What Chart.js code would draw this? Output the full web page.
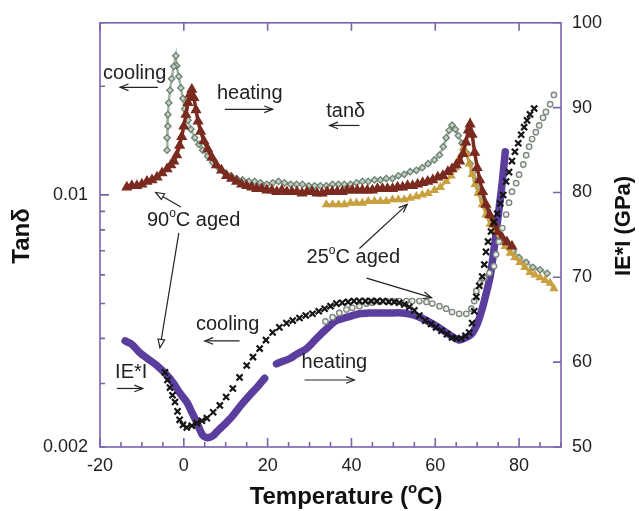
<!DOCTYPE html>
<html><head><meta charset="utf-8">
<script src="https://cdn.jsdelivr.net/npm/chart.js@4/dist/chart.umd.min.js"></script>
<style>html,body{margin:0;padding:0;background:#fff}#wrap{width:639px;height:511px;position:relative}</style>
</head><body><div id="wrap"><canvas id="c" width="639" height="511"></canvas></div>
<script>
// ---- axis ticks ----
const xTicks = [-20, 0, 20, 40, 60, 80];
const tanTicks = [0.002, 0.01];
const tanTickLabels = ['0.002', '0.01'];
const tanMinorTicks = [0.003, 0.004, 0.005, 0.006, 0.007, 0.008, 0.009, 0.02, 0.03];
const eTicks = [50, 60, 70, 80, 90, 100];

// ---- tan delta, 90°C aged, heating (brown triangles) [T, tanδ] ----
const tanHeating90 = [[-13.6,0.0105],[-12.4,0.0106],[-11.2,0.0106],[-10.0,0.0107],[-8.8,0.0109],[-7.6,0.0110],[-6.4,0.0112],[-5.2,0.0115],[-4.0,0.0118],[-3.1,0.0121],[-2.4,0.0124],[-1.7,0.0129],[-1.0,0.0137],[-0.5,0.0145],[0.0,0.0155],[0.5,0.0167],[1.0,0.0180],[1.5,0.0190],[1.9,0.0196],[2.4,0.0186],[2.9,0.0172],[3.4,0.0160],[4.0,0.0150],[4.8,0.0141],[5.7,0.0134],[6.7,0.0127],[7.8,0.0121],[9.0,0.0117],[10.2,0.0113],[11.4,0.0111],[12.6,0.0109],[13.8,0.0107],[15.0,0.0106],[16.2,0.0105],[17.4,0.0104],[18.6,0.0104],[19.8,0.0103],[21.0,0.0103],[22.2,0.0102],[23.4,0.0103],[24.6,0.0102],[25.8,0.0102],[27.0,0.0102],[28.2,0.0101],[29.4,0.0102],[30.6,0.0102],[31.8,0.0101],[33.0,0.0101],[34.2,0.0102],[35.4,0.0102],[36.6,0.0102],[37.8,0.0102],[39.0,0.0103],[40.2,0.0103],[41.4,0.0103],[42.6,0.0103],[43.8,0.0103],[45.0,0.0103],[46.2,0.0104],[47.4,0.0104],[48.6,0.0104],[49.8,0.0104],[51.0,0.0105],[52.2,0.0105],[53.4,0.0106],[54.6,0.0106],[55.8,0.0107],[57.0,0.0108],[58.2,0.0109],[59.4,0.0110],[60.6,0.0112],[61.8,0.0113],[63.0,0.0116],[64.0,0.0118],[65.0,0.0121],[65.8,0.0124],[66.6,0.0130],[67.3,0.0140],[67.9,0.0151],[68.3,0.0157],[68.8,0.0147],[69.4,0.0131],[70.0,0.0119],[70.6,0.0110],[71.3,0.0102],[72.1,0.0094],[73.0,0.0088],[74.0,0.0083],[75.0,0.0079],[76.0,0.0076],[77.1,0.0074],[78.3,0.0072]];

// ---- tan delta, 90°C aged, cooling (grey-green diamonds) ----
const tanCooling90 = [[86.7,0.00606],[85.0,0.0062],[83.3,0.0063],[81.7,0.0065],[80.0,0.0067],[78.6,0.0070],[77.1,0.0072],[75.7,0.0076],[74.5,0.0081],[73.3,0.0085],[72.4,0.0091],[71.4,0.0096],[70.5,0.0102],[69.8,0.0109],[69.0,0.0116],[68.3,0.0122],[67.4,0.0131],[66.4,0.0139],[65.5,0.0146],[64.8,0.0152],[64.0,0.0156],[63.3,0.0151],[62.6,0.0144],[61.9,0.0136],[61.0,0.0129],[59.8,0.0125],[58.3,0.0122],[56.9,0.0119],[55.5,0.0117],[54.0,0.0116],[52.6,0.0114],[51.2,0.0113],[49.8,0.0111],[48.3,0.0111],[46.9,0.0110],[45.5,0.0110],[44.0,0.0109],[42.6,0.0109],[41.2,0.0108],[39.8,0.0107],[38.3,0.0107],[36.9,0.0107],[35.5,0.0107],[34.0,0.0106],[32.6,0.0106],[31.2,0.0106],[29.8,0.0106],[28.3,0.0107],[26.9,0.0107],[25.5,0.0107],[24.0,0.0108],[22.6,0.0109],[21.2,0.0108],[19.8,0.0107],[18.3,0.0108],[16.9,0.0109],[15.5,0.0109],[14.0,0.0110],[12.6,0.0111],[11.2,0.0113],[9.8,0.0115],[8.3,0.0119],[6.9,0.0123],[5.7,0.0128],[4.5,0.0133],[3.6,0.0138],[2.6,0.0144],[1.7,0.0152],[1.0,0.0161],[0.2,0.0173],[-0.2,0.0185],[-0.7,0.0198],[-1.2,0.0213],[-1.7,0.0228],[-1.9,0.0243],[-2.4,0.0227],[-2.9,0.0210],[-3.3,0.0195],[-3.6,0.0180],[-3.8,0.0167],[-3.8,0.0155],[-4.0,0.0144],[-4.0,0.0133]];

// ---- tan delta, 25°C aged, heating (gold triangles) ----
const tanHeating25 = [[34.0,0.0094],[35.5,0.0094],[36.9,0.0094],[38.3,0.0094],[39.8,0.0095],[41.2,0.0095],[42.6,0.0095],[44.0,0.0096],[45.5,0.0096],[46.9,0.0096],[48.3,0.0096],[49.8,0.0097],[51.2,0.0097],[52.6,0.0097],[54.0,0.0098],[55.5,0.0099],[56.9,0.0100],[58.3,0.0101],[59.8,0.0103],[61.2,0.0105],[62.6,0.0109],[63.8,0.0113],[64.8,0.0119],[65.7,0.0126],[66.7,0.0135],[67.4,0.0130],[68.1,0.0122],[68.8,0.0114],[69.5,0.0107],[70.2,0.0101],[71.2,0.0094],[72.1,0.0088],[73.1,0.0083],[74.3,0.0079],[75.5,0.0075],[76.7,0.0072],[77.9,0.0069],[79.0,0.0067],[80.2,0.0065],[81.4,0.0063],[82.6,0.0061],[83.8,0.0060],[85.0,0.0059],[86.2,0.0058],[87.4,0.0057],[88.3,0.0055]];

// ---- |E*| heating (purple), two segments [T, GPa] ----
const eHeatingA = [[-14.0,62.5],[-12.4,62.1],[-10.5,61.1],[-8.6,60.4],[-6.4,59.6],[-4.5,58.7],[-2.6,57.6],[-1.0,56.4],[0.7,55.3],[2.1,53.9],[3.1,52.9],[4.5,51.4],[5.7,51.1],[6.9,51.3],[7.9,51.8],[9.8,52.7],[11.7,53.7],[13.6,54.9],[15.7,56.1],[17.6,57.1],[19.3,58.1]];
const eHeatingB = [[22.1,59.8],[23.6,60.1],[25.2,60.4],[27.1,61.0],[29.3,61.6],[31.7,62.8],[34.0,63.9],[36.4,64.9],[39.0,65.3],[41.9,65.7],[44.3,65.8],[46.7,65.8],[49.0,65.8],[52.1,65.8],[54.5,65.6],[56.7,65.2],[59.0,64.6],[61.4,63.9],[63.8,63.1],[65.7,62.6],[66.9,62.8],[68.6,63.3],[70.0,64.5],[71.2,66.3],[72.1,68.0],[73.1,70.1],[73.8,72.5],[74.5,75.2],[75.2,78.0],[76.0,81.3],[76.7,84.8]];

// ---- |E*| cooling, 90°C aged (black crosses) ----
const eCooling90 = [[-4.5,58.8],[-3.9,57.9],[-3.3,57.0],[-2.7,56.1],[-2.1,55.3],[-1.5,54.2],[-1.0,53.2],[-0.2,52.6],[0.7,52.3],[1.9,52.5],[3.1,52.8],[4.3,53.1],[5.5,53.4],[7.0,54.1],[8.6,54.9],[10.1,55.9],[11.7,56.9],[13.3,58.2],[15.0,59.6],[16.5,60.6],[18.1,61.6],[19.6,62.6],[21.2,63.5],[22.8,64.1],[24.5,64.6],[26.0,64.9],[27.6,65.2],[29.1,65.5],[30.7,65.7],[32.2,66.0],[33.6,66.3],[35.0,66.6],[36.4,66.9],[37.8,67.0],[39.2,67.1],[40.6,67.2],[41.9,67.2],[43.3,67.2],[44.7,67.2],[46.1,67.2],[47.5,67.2],[48.9,67.1],[50.2,67.1],[51.4,67.0],[52.6,66.8],[53.8,66.5],[55.0,66.1],[56.2,65.5],[57.6,64.9],[59.0,64.5],[60.2,64.1],[61.5,63.7],[62.8,63.3],[64.0,62.9],[65.1,62.8],[66.2,62.8],[67.2,63.1],[68.1,63.5],[68.8,64.6],[69.3,66.0],[69.8,67.7],[70.5,69.0],[71.2,70.1],[71.7,71.5],[72.1,73.0],[72.6,74.2],[73.3,75.4],[74.0,76.5],[74.8,77.5],[75.5,78.7],[76.2,79.7],[76.9,81.3],[77.6,82.4],[78.3,83.7],[79.0,84.8],[79.8,85.8],[80.5,86.8],[81.2,87.7],[81.9,88.5],[82.6,89.2],[83.6,89.9]];

// ---- |E*| cooling, 25°C aged (light grey circles) ----
const eCooling25 = [[33.8,64.8],[35.5,65.3],[37.1,65.8],[38.8,66.2],[40.2,66.4],[41.9,66.6],[43.6,66.9],[45.0,67.0],[46.7,67.1],[48.3,67.2],[49.8,67.2],[51.4,67.2],[53.1,67.2],[54.5,67.2],[56.2,67.2],[57.9,67.1],[59.3,66.9],[61.0,66.6],[62.6,66.3],[64.0,65.9],[65.7,65.7],[67.4,65.7],[68.6,66.3],[69.3,67.2],[69.8,68.4],[70.7,69.3],[71.7,69.9],[72.9,70.5],[74.0,71.3],[74.5,72.7],[75.2,74.2],[76.0,75.8],[76.9,77.4],[77.6,78.8],[78.3,80.1],[79.3,81.1],[80.0,82.1],[81.0,83.3],[81.7,84.4],[82.4,85.4],[83.1,86.3],[84.0,87.1],[84.8,87.9],[85.7,88.8],[86.4,89.5],[87.4,90.4],[88.3,91.5]];

// ---- annotations (positions in data units: temperature, |E*| on right axis) ----
const noteTexts = [
  {parts:[['cooling']], at:[-19.3, 94.0]},
  {parts:[['heating']], at:[7.9, 91.7]},
  {parts:[['tanδ']], at:[34.0, 89.6]},
  {parts:[['90'],['o',1],['C aged']], at:[-8.8, 76.7]},
  {parts:[['25'],['o',1],['C aged']], at:[29.3, 72.3]},
  {parts:[['cooling']], at:[2.9, 64.4]},
  {parts:[['heating']], at:[28.1, 60.0]},
  {parts:[['IE*I']], at:[-16.4, 58.8]}
];
const noteArrows = [
  {from:[-6.2, 92.4], to:[-15.2, 92.4], head:'line'},
  {from:[9.8, 89.8], to:[21.2, 89.8], head:'line'},
  {from:[41.9, 87.9], to:[34.8, 87.9], head:'line'},
  {from:[-0.7, 78.3], to:[-6.7, 80.0], head:'open'},
  {from:[-1.2, 75.2], to:[-5.7, 61.7], head:'open'},
  {from:[41.9, 73.4], to:[53.3, 78.6], head:'line'},
  {from:[43.6, 69.9], to:[59.1, 67.6], head:'line'},
  {from:[13.3, 62.5], to:[5.0, 62.5], head:'line'},
  {from:[28.8, 57.9], to:[40.7, 57.9], head:'line'},
  {from:[-16.0, 56.9], to:[-9.8, 56.9], head:'line'}
];

const FONT = '"Liberation Sans", Arial, Helvetica, sans-serif';
const frameColor = '#7a63ad';
const toXY = arr => arr.map(p => ({x: p[0], y: p[1]}));

function drawRich(ctx, parts, x, y, size, weight) {
  let cx = x;
  parts.forEach(p => {
    const sup = p[1];
    const s = sup ? Math.round(size * 0.62) : size;
    ctx.font = (weight || '') + ' ' + s + 'px ' + FONT;
    ctx.fillText(p[0], cx, sup ? y - size * 0.36 : y);
    cx += ctx.measureText(p[0]).width;
  });
  return cx - x;
}
function richWidth(ctx, parts, size, weight) {
  let w = 0;
  parts.forEach(p => {
    const s = p[1] ? Math.round(size * 0.62) : size;
    ctx.font = (weight || '') + ' ' + s + 'px ' + FONT;
    w += ctx.measureText(p[0]).width;
  });
  return w;
}
function arrow(ctx, x1, y1, x2, y2, head) {
  const ang = Math.atan2(y2 - y1, x2 - x1);
  const hl = 9, hw = 0.38;
  ctx.beginPath();
  ctx.moveTo(x1, y1); ctx.lineTo(x2, y2); ctx.stroke();
  const ax = x2 - hl * Math.cos(ang - hw), ay = y2 - hl * Math.sin(ang - hw);
  const bx = x2 - hl * Math.cos(ang + hw), by = y2 - hl * Math.sin(ang + hw);
  ctx.beginPath();
  if (head === 'open') {
    ctx.moveTo(ax, ay); ctx.lineTo(x2, y2); ctx.lineTo(bx, by); ctx.closePath();
    ctx.fillStyle = '#fff'; ctx.fill(); ctx.stroke();
  } else {
    ctx.moveTo(ax, ay); ctx.lineTo(x2, y2); ctx.lineTo(bx, by); ctx.stroke();
  }
}

const overlay = {
  id: 'overlay',
  afterDraw(chart) {
    const {ctx, chartArea: a, scales} = chart;
    const x = scales.x, yL = scales.yL, yR = scales.yR;
    ctx.save();
    // frame + inward ticks
    ctx.strokeStyle = frameColor; ctx.lineWidth = 1.6;
    ctx.strokeRect(a.left, a.top, a.right - a.left, a.bottom - a.top);
    ctx.beginPath();
    for (let t = -20; t <= 90; t += 5) {
      const px = x.getPixelForValue(t); const L = (t % 20 === 0) ? 9 : 5;
      ctx.moveTo(px, a.bottom); ctx.lineTo(px, a.bottom - L);
    }
    xTicks.forEach(t => { const px = x.getPixelForValue(t); ctx.moveTo(px, a.top); ctx.lineTo(px, a.top + 8); });
    tanMinorTicks.concat(tanTicks).forEach(v => {
      const py = yL.getPixelForValue(v); const L = (v === 0.01) ? 9 : 5;
      ctx.moveTo(a.left, py); ctx.lineTo(a.left + L, py);
    });
    eTicks.forEach(v => { const py = yR.getPixelForValue(v); ctx.moveTo(a.right, py); ctx.lineTo(a.right - 8, py); });
    ctx.stroke();

    // annotations
    ctx.fillStyle = '#222'; ctx.textBaseline = 'middle'; ctx.textAlign = 'left';
    noteTexts.forEach(n => {
      drawRich(ctx, n.parts, x.getPixelForValue(n.at[0]), yR.getPixelForValue(n.at[1]), 20, '');
    });
    ctx.strokeStyle = '#222'; ctx.lineWidth = 1.2;
    noteArrows.forEach(r => {
      arrow(ctx, x.getPixelForValue(r.from[0]), yR.getPixelForValue(r.from[1]),
            x.getPixelForValue(r.to[0]), yR.getPixelForValue(r.to[1]), r.head);
    });

    // axis titles
    ctx.fillStyle = '#111';
    const tParts = [['Temperature ('], ['o', 1], ['C)']];
    const tw = richWidth(ctx, tParts, 24, 'bold');
    drawRich(ctx, tParts, 346 - tw / 2, 497, 24, 'bold');
    ctx.textAlign = 'center';
    ctx.save(); ctx.translate(22, 236); ctx.rotate(-Math.PI / 2);
    ctx.font = 'bold 24px ' + FONT; ctx.fillText('Tanδ', 0, 0); ctx.restore();
    ctx.save(); ctx.translate(624, 226); ctx.rotate(-Math.PI / 2);
    ctx.font = 'bold 22px ' + FONT; ctx.fillText('IE*I (GPa)', 0, 0); ctx.restore();
    ctx.restore();
  }
};

const tickFont = {family: FONT, size: 18};
new Chart(document.getElementById('c'), {
  type: 'scatter',
  data: {datasets: [
    {data: toXY(eCooling90), yAxisID: 'yR', showLine: false, pointStyle: 'crossRot', pointRadius: 4.3,
     pointBorderColor: '#151515', pointBorderWidth: 2.2},
    {data: toXY(eCooling25), yAxisID: 'yR', showLine: false, pointStyle: 'circle', pointRadius: 2.7,
     pointBorderColor: '#7f897f', pointBackgroundColor: '#eef0ec', pointBorderWidth: 1.4},
    {data: toXY(tanHeating90), yAxisID: 'yL', showLine: true, borderColor: '#7a2a1f', borderWidth: 3.5,
     pointStyle: 'triangle', pointRadius: 3, pointBackgroundColor: '#7a2a1f', pointBorderColor: '#7a2a1f'},
    {data: toXY(tanHeating25), yAxisID: 'yL', showLine: true, borderColor: '#c9a03f', borderWidth: 2.5,
     pointStyle: 'triangle', pointRadius: 2.9, pointBackgroundColor: '#c9a03f', pointBorderColor: '#c9a03f'},
    {data: toXY(tanCooling90), yAxisID: 'yL', showLine: true, borderColor: '#a3b2a5', borderWidth: 2.5,
     pointStyle: 'rectRot', pointRadius: 3.2,
     pointBorderColor: '#6a8270', pointBackgroundColor: '#c4cfc4', pointBorderWidth: 1.3},
    {data: toXY(eHeatingA), yAxisID: 'yR', showLine: true, borderColor: '#5a3d9c', borderWidth: 7.5,
     pointRadius: 0, tension: 0.3, borderCapStyle: 'round', borderJoinStyle: 'round'},
    {data: toXY(eHeatingB), yAxisID: 'yR', showLine: true, borderColor: '#5a3d9c', borderWidth: 7.5,
     pointRadius: 0, tension: 0.3, borderCapStyle: 'round', borderJoinStyle: 'round'}
  ]},
  options: {
    responsive: false, animation: false, events: [],
    layout: {padding: {top: 20, left: 0, right: 0, bottom: 0}},
    plugins: {legend: {display: false}, tooltip: {enabled: false}},
    scales: {
      x: {type: 'linear', position: 'bottom', min: -20, max: 90,
          afterBuildTicks: s => { s.ticks = xTicks.map(v => ({value: v})); },
          ticks: {font: tickFont, color: '#222', padding: 8, maxRotation: 0, autoSkip: false},
          grid: {display: false, drawTicks: false}, border: {display: false},
          afterFit: s => { s.height = 64; }},
      yL: {type: 'logarithmic', position: 'left', min: 0.002, max: 0.03,
          afterBuildTicks: s => { s.ticks = tanTicks.map(v => ({value: v})); },
          ticks: {font: tickFont, color: '#222', padding: 12, autoSkip: false,
                  callback: v => { const i = tanTicks.findIndex(t => Math.abs(t - v) < 1e-9); return i >= 0 ? tanTickLabels[i] : ''; }},
          grid: {display: false, drawTicks: false}, border: {display: false},
          afterFit: s => { s.width = 100; }},
      yR: {type: 'linear', position: 'right', min: 50, max: 100,
          afterBuildTicks: s => { s.ticks = eTicks.map(v => ({value: v})); },
          ticks: {font: tickFont, color: '#222', padding: 11, autoSkip: false},
          grid: {display: false, drawTicks: false}, border: {display: false},
          afterFit: s => { s.width = 78; }}
    }
  },
  plugins: [overlay]
});
</script>
</body></html>
